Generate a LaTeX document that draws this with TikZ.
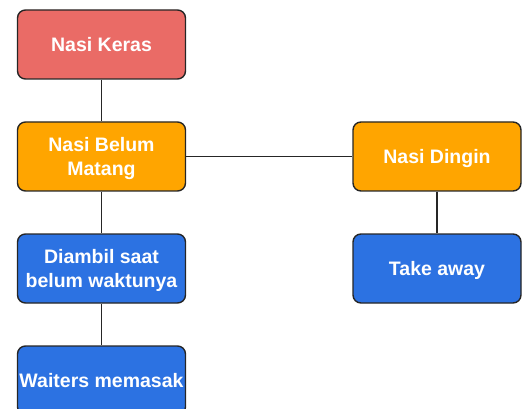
\documentclass[tikz,border=0pt]{standalone}
\usepackage{fontspec}
\setmainfont{Liberation Sans}
\definecolor{keras}{HTML}{EA6B66}
\definecolor{belum}{HTML}{FFA500}
\definecolor{aksi}{HTML}{2C72E2}
\begin{document}
\begin{tikzpicture}[x=1pt,y=-1pt,
  box/.style={draw=black!85, line width=1.4pt, rounded corners=8pt,
    minimum width=168pt, minimum height=69pt, inner sep=0pt,
    text=white, align=center, text depth=0pt,
    font=\fontsize{19.5}{24}\selectfont\bfseries},
  link/.style={line width=1.3pt, black!85}]
\useasboundingbox (0,0) rectangle (525,409);
\node[box, fill=keras] (keras) at (101.5,44.5) {Nasi Keras};
\node[box, fill=belum] (matang) at (101.5,156.5) {Nasi Belum\\Matang};
\node[box, fill=aksi] (diambil) at (101.5,268.5) {Diambil saat\\belum waktunya};
\node[box, fill=aksi] (waiters) at (101.5,380.5) {Waiters memasak};
\node[box, fill=belum] (dingin) at (437,156.5) {Nasi Dingin};
\node[box, fill=aksi] (take) at (437,268.5) {Take away};
\draw[link] (keras) -- (matang);
\draw[link] (matang) -- (diambil);
\draw[link] (diambil) -- (waiters);
\draw[link] (matang) -- (dingin);
\draw[link] (dingin) -- (take);
\end{tikzpicture}
\end{document}
